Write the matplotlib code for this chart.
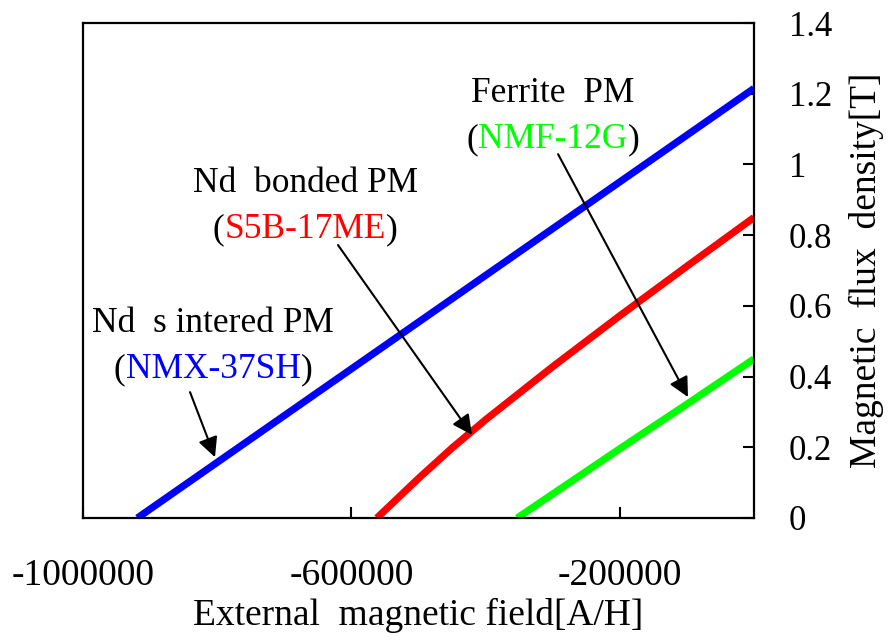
import matplotlib
matplotlib.use("Agg")
import matplotlib.pyplot as plt
from matplotlib.ticker import FuncFormatter
import numpy as np

plt.rcParams['font.family'] = ['Liberation Serif', 'DejaVu Serif']

# ---- data ----
h_sintered = [-919000, 0]
b_sintered = [0.0, 1.215]

h_bonded = [-562000, -500000, -450000, -400000, -300000, -200000, -100000, 0]
b_bonded = [0.0, 0.112, 0.198, 0.278, 0.428, 0.572, 0.712, 0.850]

h_ferrite = [-353000, -200000, -100000, 0]
b_ferrite = [0.0, 0.196, 0.322, 0.450]

x_ticks = [-1000000, -600000, -200000]
x_tick_labels = ['-1000000', '-600000', '-200000']
y_ticks = [0, 0.2, 0.4, 0.6, 0.8, 1.0, 1.2, 1.4]

names = ['Nd  s intered PM', 'Nd  bonded PM', 'Ferrite  PM']
grades = ['NMX-37SH', 'S5B-17ME', 'NMF-12G']
colors = ['#0000ff', '#ff0000', '#00ff00']

# ---- figure ----
W, H = 893, 641
fig = plt.figure(figsize=(W / 100, H / 100), dpi=100)
L, R, T, B = 83, 754, 23, 518
ax = fig.add_axes([L / W, 1 - B / H, (R - L) / W, (B - T) / H])

for hx, by, c in zip([h_sintered, h_bonded, h_ferrite],
                     [b_sintered, b_bonded, b_ferrite], colors):
    ax.plot(hx, by, color=c, lw=5.2, solid_capstyle='butt')

ax.set_xlim(-1000000, 0)
ax.set_ylim(0, 1.4)
ax.set_xticks(x_ticks)
ax.set_xticklabels(x_tick_labels)
ax.set_yticks(y_ticks)
ax.yaxis.set_major_formatter(FuncFormatter(lambda v, p: '%g' % v))
ax.yaxis.tick_right()
ax.yaxis.set_label_position('right')
ax.tick_params(axis='both', direction='in', length=8, width=1.5, color='black')
ax.tick_params(axis='x', pad=29, labelsize=27)
ax.tick_params(axis='y', pad=25, labelsize=25)
for s in ax.spines.values():
    s.set_linewidth(1.6)

ax.set_xlabel('External  magnetic field[A/H]', fontsize=27, labelpad=4)
ax.set_ylabel('Magnetic  flux  density[T]', fontsize=27, labelpad=12)

# ---- annotations ----
text_pos = [(-806000, 0.526, 0.396), (-669000, 0.922, 0.792), (-299500, 1.176, 1.046)]
arrow_start = [(-840500, 0.356), (-620000, 0.772), (-292000, 1.029)]
arrow_tip = [(-803300, 0.172), (-420300, 0.235), (-98400, 0.342)]
fs = 25.5
for name, grade, c, (tx, ty1, ty2), st, tp in zip(names, grades, colors,
                                                  text_pos, arrow_start, arrow_tip):
    ax.text(tx, ty1, name, ha='center', va='baseline', fontsize=fs)
    t = ax.text(tx, ty2, grade, ha='center', va='baseline', fontsize=fs, color=c)
    ax.annotate('(', xy=(0, 0), xycoords=t, ha='right', va='bottom', fontsize=fs)
    ax.annotate(')', xy=(1, 0), xycoords=t, ha='left', va='bottom', fontsize=fs)
    ax.annotate('', xy=tp, xytext=st,
                arrowprops=dict(arrowstyle='-|>,head_length=0.6,head_width=0.3',
                                color='black', lw=1.5, mutation_scale=20,
                                shrinkA=0, shrinkB=0))

fig.savefig('out.png', dpi=100)
